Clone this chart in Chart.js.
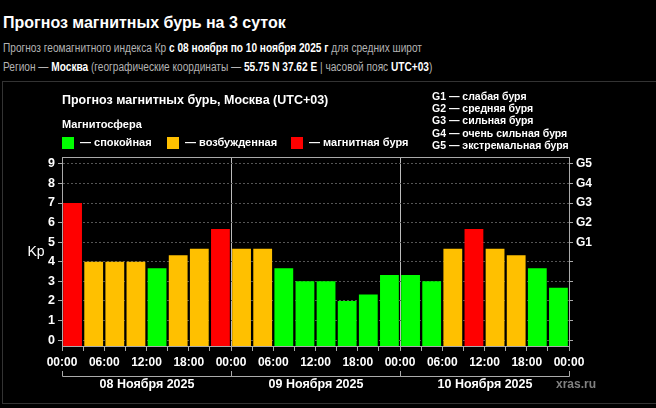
<!DOCTYPE html>
<html>
<head>
<meta charset="utf-8">
<script src="https://cdn.jsdelivr.net/npm/chart.js@4"></script>
<style>
  body { margin: 0; background: #000; width: 656px; height: 408px; overflow: hidden; font-family: "Liberation Sans", Arial, sans-serif; }
  .title { position: absolute; left: 3px; top: 14px; line-height: 18px; font-size: 16px; font-weight: bold; color: #fff; white-space: nowrap; }
  .sub { position: absolute; left: 3px; line-height: 14px; font-size: 12.5px; color: #b4b4b4; white-space: nowrap; transform: scaleX(0.81); transform-origin: 0 0; }
  .sub b { color: #fff; }
  .panel { position: absolute; left: 2px; top: 81px; width: 662px; height: 323px; border: 1px solid #333; box-sizing: border-box; }
  canvas { display: block; }
</style>
</head>
<body>
<div class="title">Прогноз магнитных бурь на 3 суток</div>
<div class="sub" style="top:41px">Прогноз геомагнитного индекса Кр <b>с 08 ноября по 10 ноября 2025 г</b> для средних широт</div>
<div class="sub" style="top:60px">Регион — <b>Москва</b> (географические координаты — <b>55.75 N 37.62 E</b> | часовой пояс <b>UTC+03</b>)</div>
<div class="panel"><canvas id="kpChart" width="649" height="321"></canvas></div>
<script>
// data
const dayLabels = ['08 Ноября 2025', '09 Ноября 2025', '10 Ноября 2025'];
const hourLabels = ['00:00', '03:00', '06:00', '09:00', '12:00', '15:00', '18:00', '21:00'];
const kpDay1 = [7, 4, 4, 4, 3.67, 4.33, 4.67, 5.67];
const kpDay2 = [4.67, 4.67, 3.67, 3, 3, 2, 2.33, 3.33];
const kpDay3 = [3.33, 3, 4.67, 5.67, 4.67, 4.33, 3.67, 2.67];
const kpTicks = [0, 1, 2, 3, 4, 5, 6, 7, 8, 9];
const gLabels = ['G1', 'G2', 'G3', 'G4', 'G5'];
const gLegend = ['G1 — слабая буря', 'G2 — средняя буря', 'G3 — сильная буря', 'G4 — очень сильная буря', 'G5 — экстремальная буря'];
const stateLabels = ['— спокойная', '— возбужденная', '— магнитная буря'];

const stateColors = ['#00ff00', '#ffc000', '#ff0000'];
const GREY = '#aaa';
const FONT = '"Liberation Sans", Arial, sans-serif';

const kp = [...kpDay1, ...kpDay2, ...kpDay3];
const slots = [];
dayLabels.forEach(d => hourLabels.forEach(h => slots.push(d + ' ' + h)));

function kpColor(v) {
    if (v >= 5) return stateColors[2];
    if (v >= 4) return stateColors[1];
    return stateColors[0];
}

const extras = {
    id: 'extras',
    afterDraw(chart) {
        const { ctx, chartArea: a } = chart;
        const xt = chart.scales.xt;
        ctx.save();
        // top frame line
        ctx.strokeStyle = GREY;
        ctx.lineWidth = 1;
        ctx.beginPath();
        ctx.moveTo(a.left, a.top + 0.5);
        ctx.lineTo(a.right, a.top + 0.5);
        ctx.stroke();

        ctx.fillStyle = '#fff';
        ctx.textBaseline = 'middle';
        ctx.textAlign = 'left';
        ctx.font = 'bold 12.5px ' + FONT;
        ctx.fillText('Прогноз магнитных бурь, Москва (UTC+03)', a.left, 19);
        ctx.font = 'bold 11px ' + FONT;
        ctx.fillText('Магнитосфера', a.left, 43);

        // legend
        const lx = [a.left, a.left + 105, a.left + 229];
        stateLabels.forEach((t, i) => {
            ctx.fillStyle = stateColors[i];
            ctx.fillRect(lx[i], 55, 12, 12);
            ctx.fillStyle = '#fff';
            ctx.fillText(t, lx[i] + 18, 61);
        });

        // G levels
        ctx.font = 'bold 10.5px ' + FONT;
        gLegend.forEach((t, i) => ctx.fillText(t, 429, 15 + i * 12.3));

        // Kp
        ctx.font = '14px ' + FONT;
        ctx.textAlign = 'center';
        ctx.fillText('Kp', 33, 170);

        // day brackets
        ctx.strokeStyle = GREY;
        dayLabels.forEach((d, i) => {
            const x0 = Math.round(xt.getPixelForValue(i * 24)) + 0.5;
            const x1 = Math.round(xt.getPixelForValue((i + 1) * 24)) + 0.5;
            ctx.beginPath();
            ctx.moveTo(x0, 289);
            ctx.lineTo(x0, 294.5);
            ctx.lineTo(x1, 294.5);
            ctx.lineTo(x1, 289);
            ctx.stroke();
            ctx.fillStyle = '#fff';
            ctx.font = 'bold 12.5px ' + FONT;
            ctx.fillText(d, (x0 + x1) / 2, 303);
        });
        ctx.fillStyle = '#808080';
        ctx.font = 'bold 12px ' + FONT;
        ctx.fillText('xras.ru', 573, 303);
        ctx.restore();
    }
};

const intTicks = axis => { axis.ticks = kpTicks.map(v => ({ value: v })); };

new Chart(document.getElementById('kpChart'), {
    type: 'bar',
    data: {
        labels: slots,
        datasets: [{
            data: kp,
            backgroundColor: kp.map(kpColor),
            base: -0.3,
            categoryPercentage: 1,
            barPercentage: 0.89,
            xAxisID: 'x',
            yAxisID: 'y'
        }]
    },
    options: {
        responsive: false,
        devicePixelRatio: 1,
        animation: false,
        layout: { padding: { top: 75, left: 0, right: 0, bottom: 0 } },
        plugins: { legend: { display: false }, tooltip: { enabled: false } },
        scales: {
            x: { display: false },
            xt: {
                type: 'linear',
                position: 'bottom',
                offset: false,
                min: 0,
                max: 72,
                afterFit: s => { s.height = 57; },
                ticks: {
                    stepSize: 3,
                    autoSkip: false,
                    maxRotation: 0,
                    padding: 4,
                    color: '#fff',
                    font: { family: FONT, size: 12, weight: 'bold' },
                    callback: v => {
                        const i = (v % 24) / 3;
                        return i % 2 === 0 ? hourLabels[i] : '';
                    }
                },
                grid: {
                    offset: false,
                    color: c => (c.tick && (c.tick.value === 24 || c.tick.value === 48)) ? '#bbb' : 'transparent',
                    tickColor: GREY,
                    tickLength: 5
                },
                border: { color: GREY }
            },
            y: {
                min: -0.3,
                max: 9.35,
                afterBuildTicks: intTicks,
                afterFit: s => { s.width = 59; },
                ticks: {
                    padding: 3,
                    color: '#fff',
                    font: { family: FONT, size: 12.5, weight: 'bold' }
                },
                grid: { color: '#555', tickColor: GREY, tickLength: 4 },
                border: { color: GREY, dash: [2, 2] }
            },
            g: {
                position: 'right',
                min: -0.3,
                max: 9.35,
                afterBuildTicks: intTicks,
                afterFit: s => { s.width = 83; },
                ticks: {
                    padding: 3,
                    color: '#fff',
                    font: { family: FONT, size: 12, weight: 'bold' },
                    callback: v => (v >= 5 ? gLabels[v - 5] : '')
                },
                grid: { drawOnChartArea: false, tickColor: GREY, tickLength: 4 },
                border: { color: GREY }
            }
        }
    },
    plugins: [extras]
});
</script>
</body>
</html>
